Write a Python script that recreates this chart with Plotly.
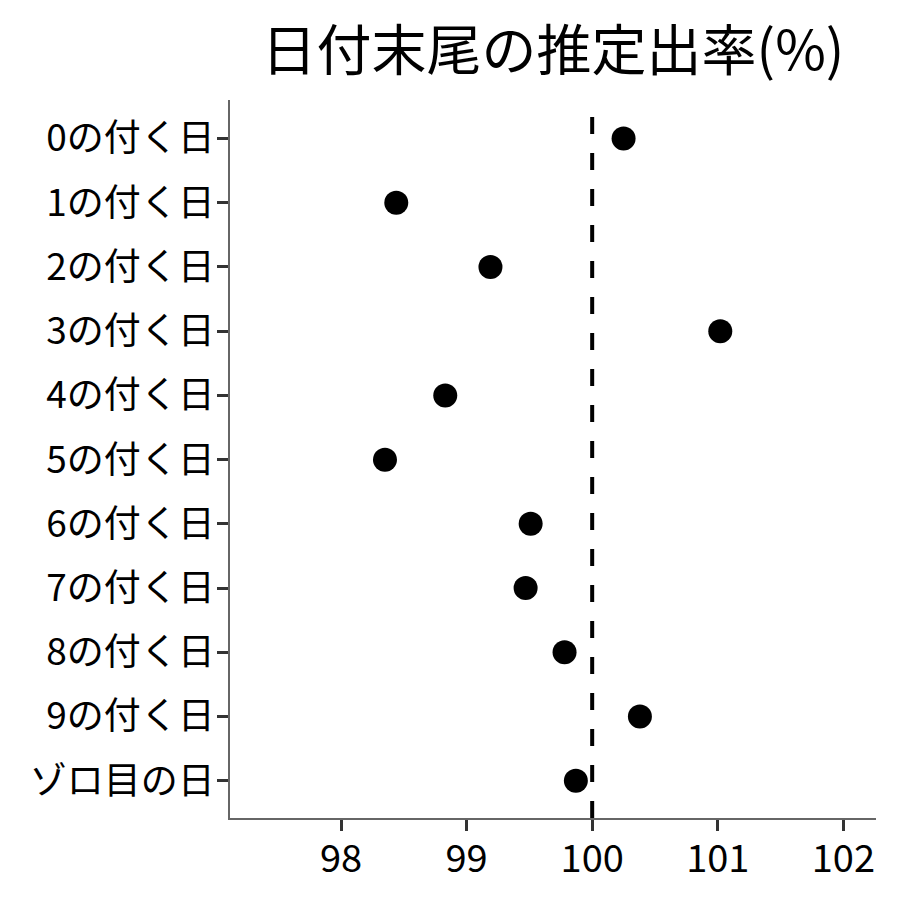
import plotly.graph_objects as go

categories = ["0の付く日", "1の付く日", "2の付く日", "3の付く日", "4の付く日",
              "5の付く日", "6の付く日", "7の付く日", "8の付く日", "9の付く日", "ゾロ目の日"]
rates = [100.25, 98.44, 99.19, 101.02, 98.83, 98.35, 99.51, 99.47, 99.78, 100.38, 99.87]
x_ticks = [98, 99, 100, 101, 102]
reference_value = 100

FONT = "Noto Sans CJK JP"

fig = go.Figure()
fig.add_trace(go.Scatter(
    x=rates, y=categories, mode="markers",
    marker=dict(color="black", size=24),
    showlegend=False,
))
fig.add_vline(x=reference_value, line=dict(color="black", width=4, dash="17px,19px"))

fig.update_layout(
    width=892, height=892,
    margin=dict(l=222, r=24, t=92, b=82),
    paper_bgcolor="white", plot_bgcolor="white",
    font=dict(family=FONT, color="black"),
    title=dict(text="日付末尾の推定出率(%)", x=0.611, xanchor="center",
               y=0.952, yanchor="middle", font=dict(size=55, family=FONT, color="black")),
)
fig.update_xaxes(
    range=[97.116, 102.26], tickvals=x_ticks, ticktext=[str(v) for v in x_ticks],
    showgrid=False, zeroline=False, showline=True, linecolor="#666666", linewidth=1.5,
    ticks="outside", ticklen=11, tickwidth=3, tickcolor="#333333",
    ticklabelstandoff=-4,
    tickfont=dict(size=38, family=FONT, color="black"),
)
fig.update_yaxes(
    categoryorder="array", categoryarray=categories[::-1],
    range=[-0.58, 10.6],
    showgrid=False, zeroline=False, showline=True, linecolor="#666666", linewidth=1.5,
    ticks="outside", ticklen=11, tickwidth=3, tickcolor="#333333",
    ticklabelstandoff=-5,
    tickfont=dict(size=37, family=FONT, color="black"),
)

fig.write_html("out.html")
